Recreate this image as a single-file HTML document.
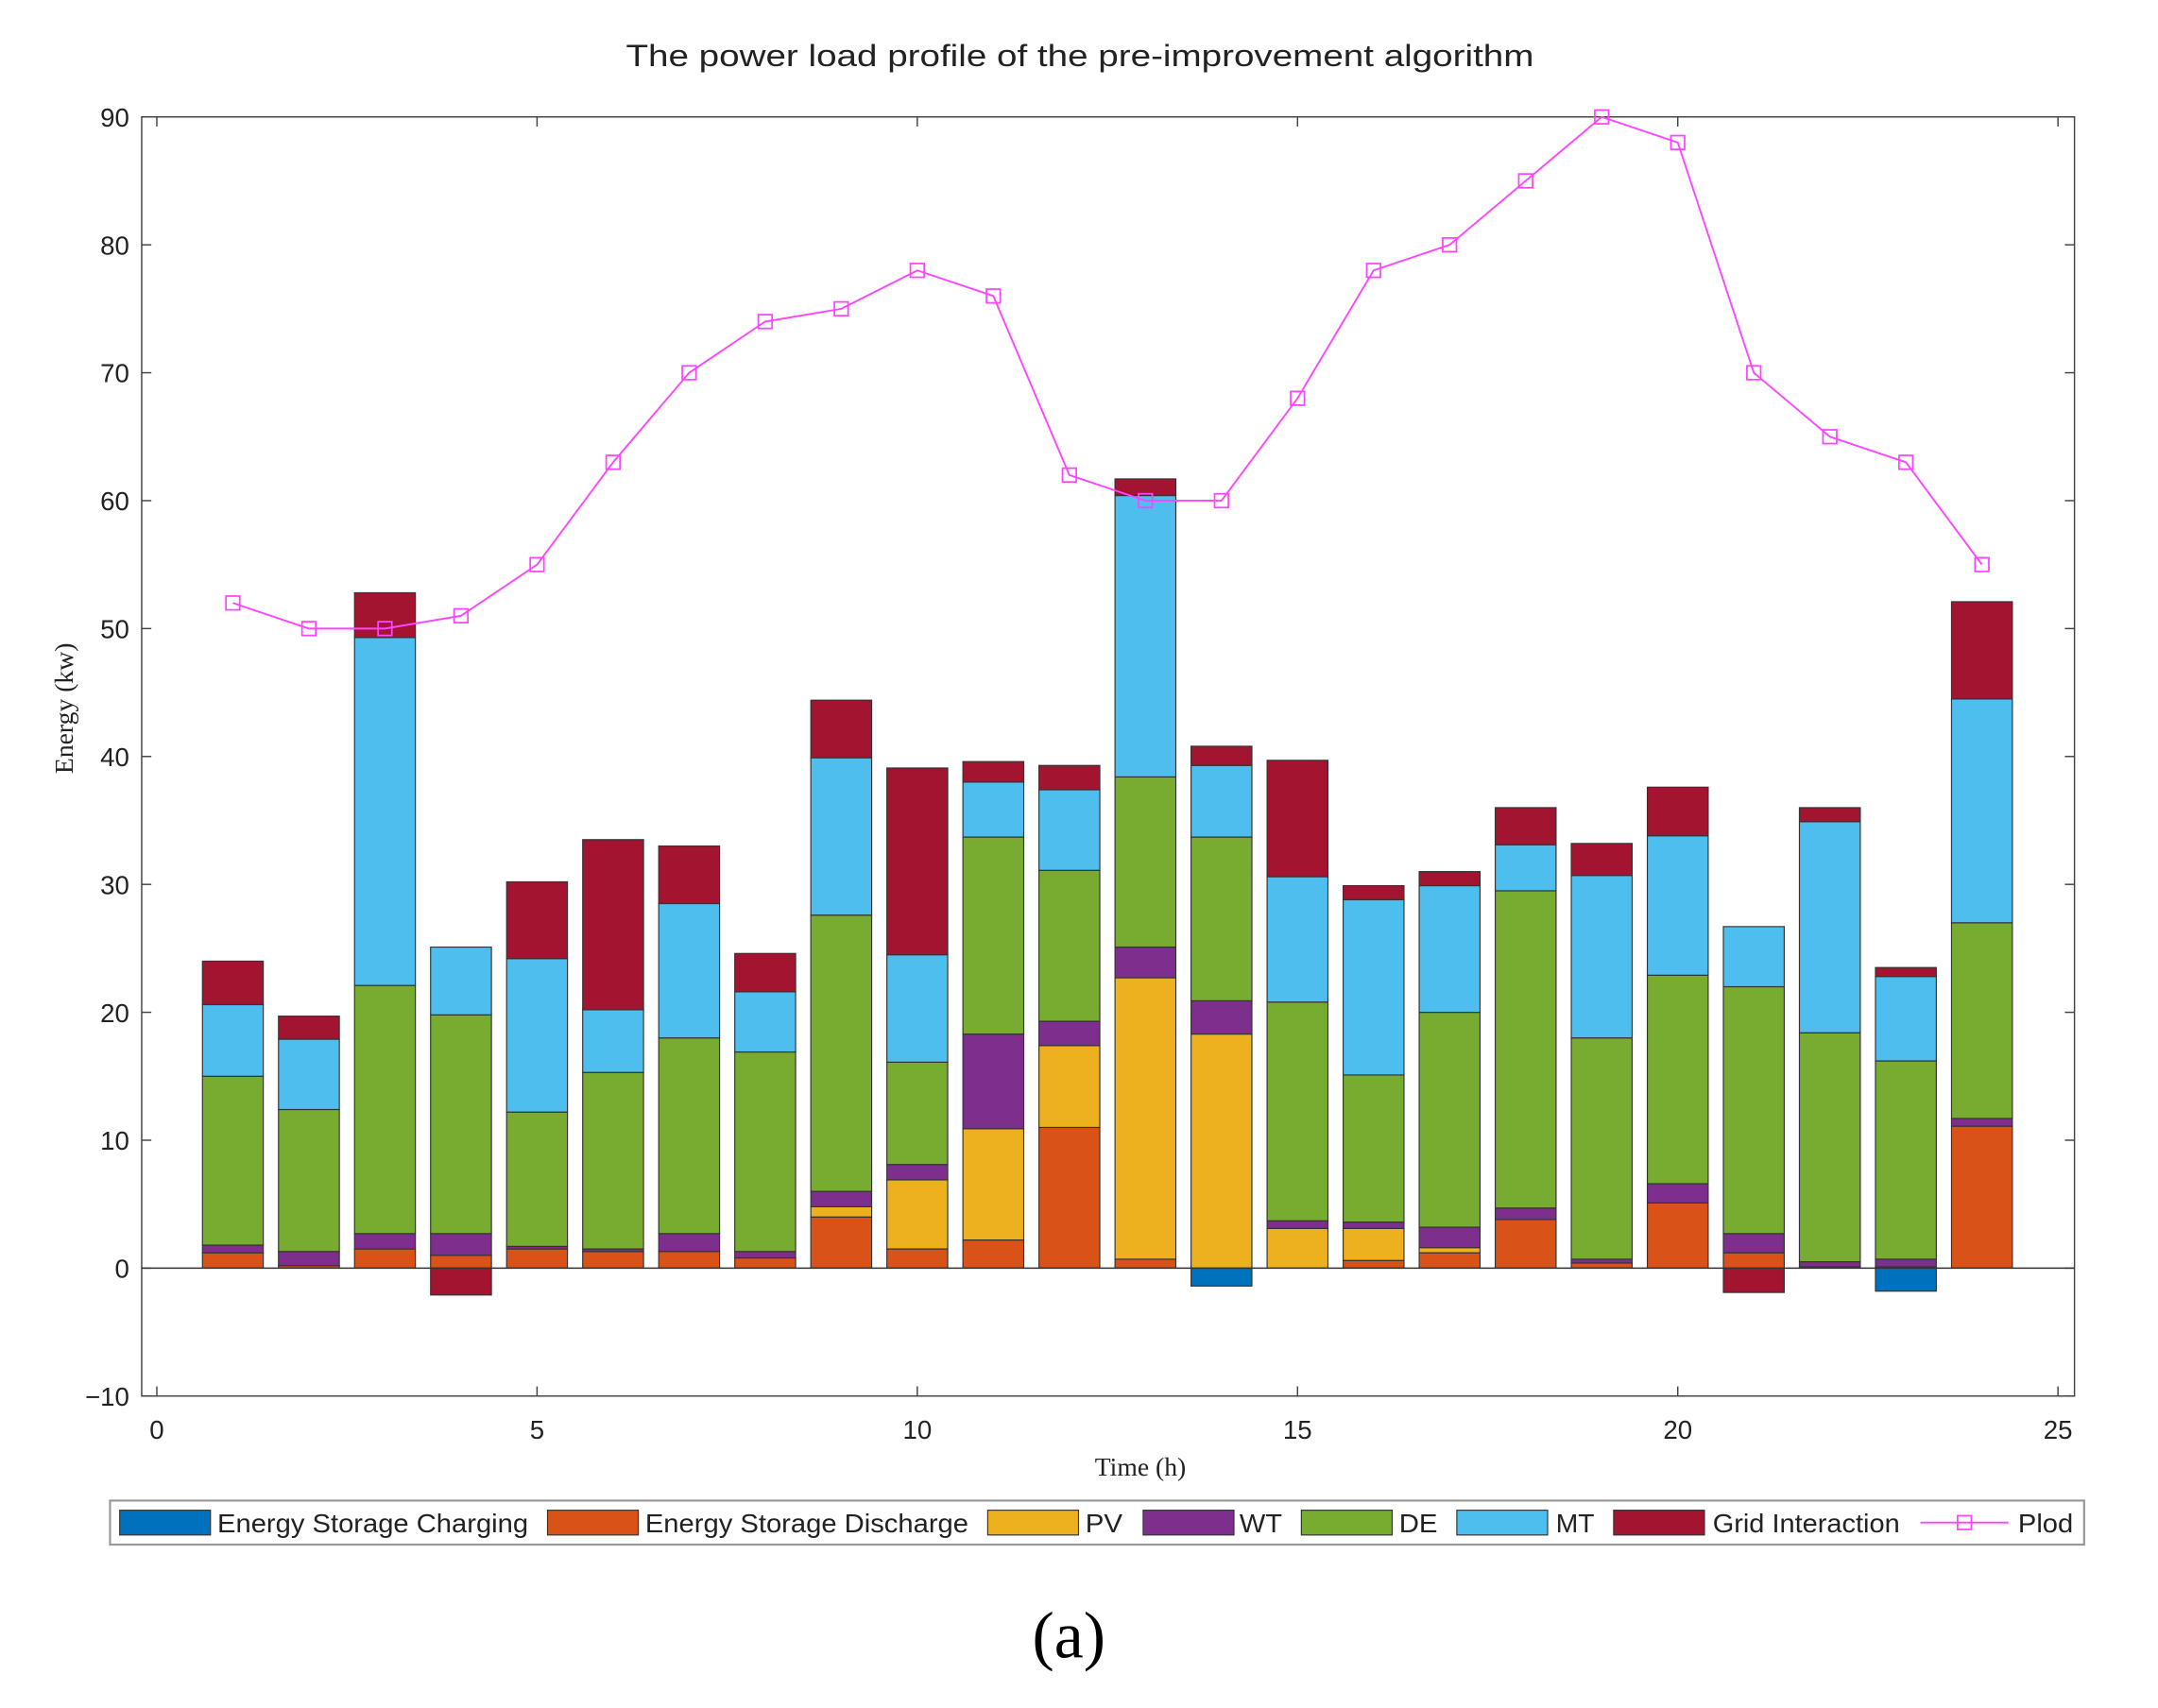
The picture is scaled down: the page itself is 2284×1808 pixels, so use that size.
<!DOCTYPE html>
<html><head><meta charset="utf-8"><style>
html,body{margin:0;padding:0;background:#fff;}
svg{display:block;}
text{font-family:"Liberation Sans",Arial,sans-serif;fill:#222;}
</style></head><body>
<svg id="chart" width="2284" height="1808" viewBox="0 0 1568.7 1241.8" preserveAspectRatio="none" xmlns="http://www.w3.org/2000/svg">
<text x="785" y="48" font-size="22" text-anchor="middle" textLength="660" lengthAdjust="spacingAndGlyphs">The power load profile of the pre-improvement algorithm</text>
<rect x="103" y="85" width="1405" height="930" fill="#fff" stroke="#444" stroke-width="1"/>
<g id="grid"></g>
<g id="bars"></g>
<g id="line"></g>
<text transform="translate(53,515) rotate(-90)" font-size="19" text-anchor="middle" style="font-family:'Liberation Serif',serif">Energy (kw)</text>
<text x="829" y="1073" font-size="19" text-anchor="middle" style="font-family:'Liberation Serif',serif">Time (h)</text>
<g id="legend"></g>
<text x="777" y="1205" font-size="48" text-anchor="middle" style="font-family:'Liberation Serif',serif;fill:#000">(a)</text>
</svg>
<script>
const hours = [1,2,3,4,5,6,7,8,9,10,11,12,13,14,15,16,17,18,19,20,21,22,23,24];
const esCharge = [0,0,0,0,0,0,0,0,0,0,0,0,0,-1.4,0,0,0,0,0,0,0,0,-1.8,0];
const esDischarge = [1.2,0.2,1.5,1.0,1.5,1.3,1.3,0.8,4.0,1.5,2.2,11,0.7,0,0,0.6,1.2,3.8,0.4,5.1,1.2,0.1,0.1,11.1];
const pv = [0,0,0,0,0,0,0,0,0.8,5.4,8.7,6.4,22.0,18.3,3.1,2.5,0.4,0,0,0,0,0,0,0];
const wt = [0.6,1.1,1.2,1.7,0.2,0.2,1.4,0.5,1.2,1.2,7.4,1.9,2.4,2.6,0.6,0.5,1.6,0.9,0.3,1.5,1.5,0.4,0.6,0.6];
const de = [13.2,11.1,19.4,17.1,10.5,13.8,15.3,15.6,21.6,8.0,15.4,11.8,13.3,12.8,17.1,11.5,16.8,24.8,17.3,16.3,19.3,17.9,15.5,15.3];
const mt = [5.6,5.5,27.2,5.3,12.0,4.9,10.5,4.7,12.3,8.4,4.3,6.3,22.0,5.6,9.8,13.7,9.9,3.6,12.7,10.9,4.7,16.5,6.6,17.5];
const grid = [3.4,1.8,3.5,-2.1,6.0,13.3,4.5,3.0,4.5,14.6,1.6,1.9,1.3,1.5,9.1,1.1,1.1,2.9,2.5,3.8,-1.9,1.1,0.7,7.6];
const plod = [52,50,50,51,55,63,70,74,75,78,76,62,60,60,68,78,80,85,90,88,70,65,63,55];
const xTicks = [0,5,10,15,20,25];
const yTicks = [-10,0,10,20,30,40,50,60,70,80,90];

const NS = "http://www.w3.org/2000/svg";
const X = v => 114 + v * (1496 - 114) / 25;
const Y = v => 922 - v * 9.3;
function mk(tag, attrs, parent) {
  const e = document.createElementNS(NS, tag);
  for (const k in attrs) e.setAttribute(k, attrs[k]);
  parent.appendChild(e);
  return e;
}
const gGrid = document.getElementById('grid');
yTicks.forEach(t => {
  const l = mk('line', {x1:103, x2:110, y1:Y(t), y2:Y(t), stroke:'#444'}, gGrid);
  
  
  mk('line', {x1:1501, x2:1508, y1:Y(t), y2:Y(t), stroke:'#444'}, gGrid);
  const tx = mk('text', {x:94, y:Y(t)+7, 'font-size':19, 'text-anchor':'end'}, gGrid);
  tx.textContent = t < 0 ? '\u2212' + Math.abs(t) : t;
  
  
});
xTicks.forEach(t => {
  const l = mk('line', {x1:X(t), x2:X(t), y1:1008, y2:1015, stroke:'#444'}, gGrid);
  
  
  mk('line', {x1:X(t), x2:X(t), y1:85, y2:92, stroke:'#444'}, gGrid);
  const tx = mk('text', {x:X(t), y:1046, 'font-size':19, 'text-anchor':'middle'}, gGrid);
  tx.textContent = t;
  
  
});

const series = [
  {name:'energy-storage-charging', label:'Energy Storage Charging', data:esCharge, color:'#0072BD'},
  {name:'energy-storage-discharge', label:'Energy Storage Discharge', data:esDischarge, color:'#D95319'},
  {name:'pv', label:'PV', data:pv, color:'#EDB120'},
  {name:'wt', label:'WT', data:wt, color:'#7E2F8E'},
  {name:'de', label:'DE', data:de, color:'#77AC30'},
  {name:'mt', label:'MT', data:mt, color:'#4DBEEE'},
  {name:'grid-interaction', label:'Grid Interaction', data:grid, color:'#A2142F'}
];
const gBars = document.getElementById('bars');
const bw = 0.8;
hours.forEach((h, i) => {
  let pos = 0, neg = 0;
  series.forEach(s => {
    const v = s.data[i];
    if (!v) return;
    let y0, y1;
    if (v > 0) { y0 = pos; y1 = pos + v; pos = y1; } else { y0 = neg + v; y1 = neg; neg = y0; }
    const r = mk('rect', {x:X(h - bw/2), y:Y(y1), width:X(h + bw/2) - X(h - bw/2), height:Y(y0) - Y(y1), fill:s.color, stroke:'#333', 'stroke-width':0.8}, gBars);
    
    
  });
});
mk('line', {x1:103, x2:1508, y1:Y(0), y2:Y(0), stroke:'#333', 'stroke-width':1}, gBars);

const gLine = document.getElementById('line');
const pl = mk('polyline', {points: hours.map((h, i) => X(h) + ',' + Y(plod[i])).join(' '), fill:'none', stroke:'#FF44FF', 'stroke-width':1.3}, gLine);


hours.forEach((h, i) => {
  const m = mk('rect', {x:X(h)-5, y:Y(plod[i])-5, width:10, height:10, fill:'none', stroke:'#FF44FF', 'stroke-width':1.2}, gLine);
  
  
});

const gLeg = document.getElementById('legend');
mk('rect', {x:80, y:1091, width:1435, height:32, fill:'#fff', stroke:'#999', 'stroke-width':1.5}, gLeg);
const legPos = [[87,158,226],[398,469,235],[718,789,27],[831,901,31],[946,1017,28],[1059,1131,28],[1173,1245,136]];
series.forEach((s, i) => {
  const p = legPos[i];
  const sw = mk('rect', {x:p[0], y:1098, width:66, height:18, fill:s.color, stroke:'#333', 'stroke-width':0.8}, gLeg);
  
  
  const t = mk('text', {x:p[1], y:1114, 'font-size':19, textLength:p[2], lengthAdjust:'spacingAndGlyphs'}, gLeg);
  t.textContent = s.label;
  
  
});
const ll = mk('line', {x1:1396, x2:1460, y1:1107, y2:1107, stroke:'#FF44FF', 'stroke-width':1.3}, gLeg);


mk('rect', {x:1423, y:1102, width:10, height:10, fill:'none', stroke:'#FF44FF', 'stroke-width':1.2}, gLeg);
const lt = mk('text', {x:1467, y:1114, 'font-size':19, textLength:40, lengthAdjust:'spacingAndGlyphs'}, gLeg);
lt.textContent = 'Plod';


</script>
</body></html>
